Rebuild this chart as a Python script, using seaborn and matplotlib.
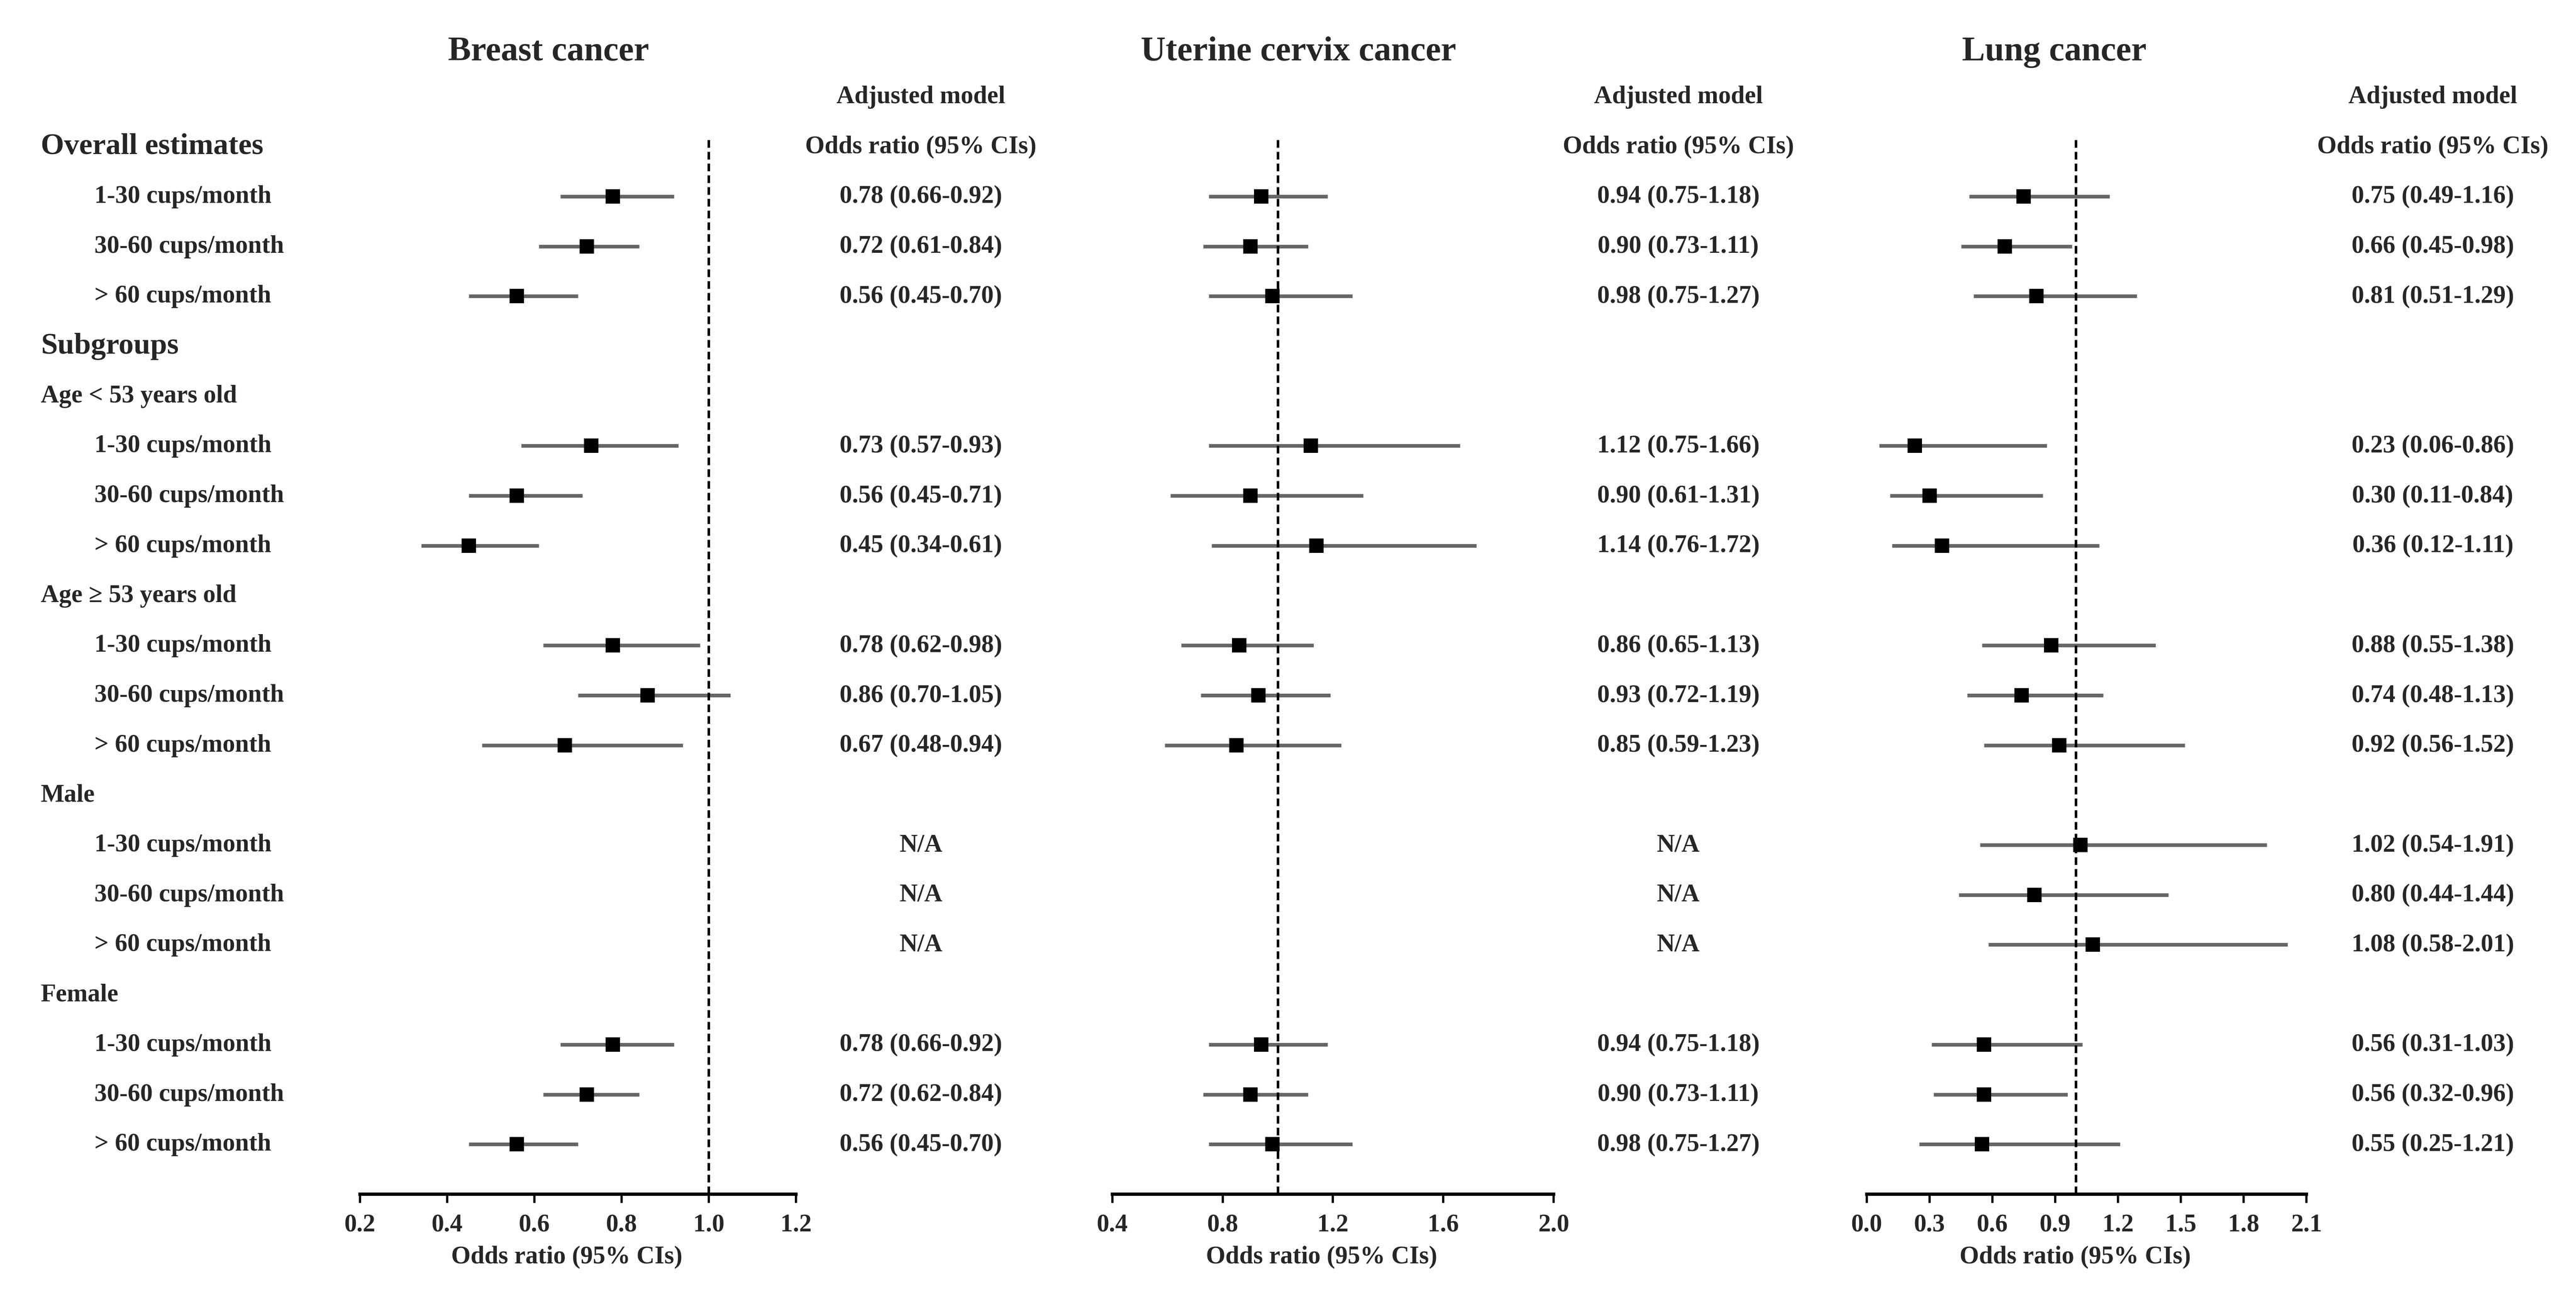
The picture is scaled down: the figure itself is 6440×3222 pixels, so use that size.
import numpy as np
import pandas as pd
import matplotlib.pyplot as plt
import seaborn as sns
from matplotlib.transforms import blended_transform_factory

sns.set_style('white')
plt.rcParams['font.family'] = ['Liberation Serif', 'DejaVu Serif']
plt.rcParams['font.weight'] = 'bold'

# rows of the table (top to bottom)
row_labels = ['Overall estimates', '1-30 cups/month', '30-60 cups/month', '> 60 cups/month',
              'Subgroups', 'Age < 53 years old', '1-30 cups/month', '30-60 cups/month', '> 60 cups/month',
              'Age \u2265 53 years old', '1-30 cups/month', '30-60 cups/month', '> 60 cups/month',
              'Male', '1-30 cups/month', '30-60 cups/month', '> 60 cups/month',
              'Female', '1-30 cups/month', '30-60 cups/month', '> 60 cups/month']
header_rows = [0, 4]
group_rows = [5, 9, 13, 17]
est_rows = [1, 2, 3, 6, 7, 8, 10, 11, 12, 14, 15, 16, 18, 19, 20]

nan = np.nan
breast_or = [0.78, 0.72, 0.56, 0.73, 0.56, 0.45, 0.78, 0.86, 0.67, nan, nan, nan, 0.78, 0.72, 0.56]
breast_lo = [0.66, 0.61, 0.45, 0.57, 0.45, 0.34, 0.62, 0.70, 0.48, nan, nan, nan, 0.66, 0.62, 0.45]
breast_hi = [0.92, 0.84, 0.70, 0.93, 0.71, 0.61, 0.98, 1.05, 0.94, nan, nan, nan, 0.92, 0.84, 0.70]

cervix_or = [0.94, 0.90, 0.98, 1.12, 0.90, 1.14, 0.86, 0.93, 0.85, nan, nan, nan, 0.94, 0.90, 0.98]
cervix_lo = [0.75, 0.73, 0.75, 0.75, 0.61, 0.76, 0.65, 0.72, 0.59, nan, nan, nan, 0.75, 0.73, 0.75]
cervix_hi = [1.18, 1.11, 1.27, 1.66, 1.31, 1.72, 1.13, 1.19, 1.23, nan, nan, nan, 1.18, 1.11, 1.27]

lung_or = [0.75, 0.66, 0.81, 0.23, 0.30, 0.36, 0.88, 0.74, 0.92, 1.02, 0.80, 1.08, 0.56, 0.56, 0.55]
lung_lo = [0.49, 0.45, 0.51, 0.06, 0.11, 0.12, 0.55, 0.48, 0.56, 0.54, 0.44, 0.58, 0.31, 0.32, 0.25]
lung_hi = [1.16, 0.98, 1.29, 0.86, 0.84, 1.11, 1.38, 1.13, 1.52, 1.91, 1.44, 2.01, 1.03, 0.96, 1.21]

titles = ['Breast cancer', 'Uterine cervix cancer', 'Lung cancer']
breast_ticks = [0.2, 0.4, 0.6, 0.8, 1.0, 1.2]
cervix_ticks = [0.4, 0.8, 1.2, 1.6, 2.0]
lung_ticks = [0.0, 0.3, 0.6, 0.9, 1.2, 1.5, 1.8, 2.1]

panels = [
    (titles[0], breast_or, breast_lo, breast_hi, breast_ticks),
    (titles[1], cervix_or, cervix_lo, cervix_hi, cervix_ticks),
    (titles[2], lung_or, lung_lo, lung_hi, lung_ticks),
]

fig = plt.figure(figsize=(32.2, 16.115), dpi=200)

ax_left = [0.13975, 0.43183, 0.72469]
ax_width = [0.16925, 0.17127, 0.17065]
bottom, height = 0.07353, 0.81834
title_x = [0.2129, 0.504, 0.7974]
col_x = [0.3575, 0.6515, 0.9444]

axes = []
for k, (title, ors, los, his, ticks) in enumerate(panels):
    ax = fig.add_axes([ax_left[k], bottom, ax_width[k], height])
    axes.append(ax)
    df = pd.DataFrame({'row': est_rows, 'or': ors, 'lo': los, 'hi': his}).dropna()

    # CI lines, reference line, point estimates
    ax.hlines(df['row'], df['lo'], df['hi'], color='#666666', lw=3.3, zorder=1)
    ax.axvline(1.0, color='black', ls=(0, (3, 1.6)), lw=2.3, zorder=2)
    sns.scatterplot(data=df, x='or', y='row', marker='s', s=170, color='black',
                    edgecolor='black', linewidth=0, ax=ax, zorder=3, legend=False)

    ax.set_xlim(ticks[0], ticks[-1])
    ax.set_ylim(21.0, -0.15)
    ax.set_xticks(ticks)
    ax.set_xticklabels([f'{t:.1f}' for t in ticks])
    ax.set_yticks([])
    ax.set_ylabel('')
    for s in ['left', 'right', 'top']:
        ax.spines[s].set_visible(False)
    ax.spines['bottom'].set_linewidth(3)
    ax.spines['bottom'].set_color('black')
    ax.tick_params(axis='x', bottom=True, length=8, width=2, pad=9,
                   labelsize=22.5, direction='out', color='black')
    ax.set_xlabel('Odds ratio (95% CIs)', fontsize=22.5, fontweight='bold')
    ax.xaxis.set_label_coords(0.474, -0.0595)
    ax.xaxis.label.set_va('center')

trans = blended_transform_factory(fig.transFigure, axes[0].transData)

# left labels
for i, lab in enumerate(row_labels):
    if i in header_rows:
        fig.text(0.0158, i, lab, transform=trans, fontsize=27, ha='left', va='center')
    elif i in group_rows:
        fig.text(0.0158, i, lab, transform=trans, fontsize=22.5, ha='left', va='center')
    else:
        fig.text(0.0366, i, lab, transform=trans, fontsize=22.5, ha='left', va='center')

# titles and value columns
for k, (title, ors, los, his, ticks) in enumerate(panels):
    fig.text(title_x[k], -1.9, title, transform=trans, fontsize=31, ha='center', va='center')
    fig.text(col_x[k], -1, 'Adjusted model', transform=trans, fontsize=22.5, ha='center', va='center')
    fig.text(col_x[k], 0, 'Odds ratio (95% CIs)', transform=trans, fontsize=22.5, ha='center', va='center')
    for r, o, lo, hi in zip(est_rows, ors, los, his):
        txt = 'N/A' if np.isnan(o) else f'{o:.2f} ({lo:.2f}-{hi:.2f})'
        fig.text(col_x[k], r, txt, transform=trans, fontsize=22.5, ha='center', va='center')

fig.savefig('out.png', dpi=200)
